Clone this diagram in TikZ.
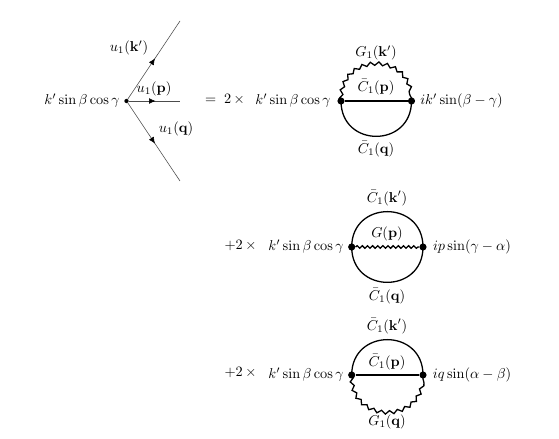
\documentclass[tikz,border=0pt]{standalone}
\usepackage{amsmath}
\usetikzlibrary{arrows.meta,decorations.pathmorphing,decorations.markings}

\begin{document}
\begin{tikzpicture}[x=0.7pt,y=0.7pt,
  every node/.style={inner sep=0.5pt},
  dot/.style={circle, fill=black, inner sep=0pt, minimum size=5pt},
  smalldot/.style={circle, fill=black, inner sep=0pt, minimum size=3pt},
  leg/.style={draw=black!70, line width=0.4pt, postaction={decorate},
    decoration={markings, mark=at position 0.52 with {\arrow[black]{Latex[length=4.5pt,width=4pt]}}}},
  prop/.style={line width=0.9pt},
  wavy/.style={line width=0.9pt, decorate,
    decoration={snake, amplitude=1.2pt, segment length=5.8pt}},
  wavyline/.style={line width=0.9pt, decorate,
    decoration={snake, amplitude=0.9pt, segment length=3.6pt}},
  arctop/.style={out=90, in=90, distance=33pt},
  arcbot/.style={out=-90, in=-90, distance=33pt}
]
\useasboundingbox (0,0) rectangle (559,439);

% vertex with three legs
\node[smalldot] (v0) at (126.5,338) {};
\coordinate (kend) at (180,418);
\coordinate (pend) at (180,338);
\coordinate (qend) at (180,258);
\draw[leg] (v0) -- (kend);
\draw[leg] (v0) -- (pend);
\draw[leg] (v0) -- (qend);
\node[anchor=east] (lhs) at (120.5,338) {$k'\sin\beta\cos\gamma$};
\node (uk) at (129,391) {$u_1(\mathbf{k}')$};
\node (up) at (154,350) {$u_1(\mathbf{p})$};
\node (uq) at (176,310) {$u_1(\mathbf{q})$};
\node (eq) at (225,340) {$=\;2\,\times$};

% first loop
\node[dot] (a1) at (341,338) {};
\node[dot] (b1) at (411.5,338) {};
\draw[wavy] (a1.center) to[arctop] (b1.center);
\draw[prop] (a1) -- (b1);
\draw[prop] (a1.center) to[arcbot] (b1.center);
\node (a1txt) at (293,338) {$k'\sin\beta\cos\gamma$};
\node (b1txt) at (461.5,338) {$ik'\sin(\beta-\gamma)$};
\node (g1k) at (376,386) {$G_1(\mathbf{k}')$};
\node (c1p) at (376,352) {$\bar{C}_1(\mathbf{p})$};
\node (c1q) at (376,290) {$\bar{C}_1(\mathbf{q})$};

% second loop
\node (two2) at (240.5,194) {$+2\,\times$};
\node[dot] (a2) at (351.7,192) {};
\node[dot] (b2) at (423,192) {};
\draw[prop] (a2.center) to[arctop] (b2.center);
\draw[wavyline] (a2) -- (b2);
\draw[prop] (a2.center) to[arcbot] (b2.center);
\node (a2txt) at (306,192) {$k'\sin\beta\cos\gamma$};
\node (b2txt) at (472,192) {$ip\sin(\gamma-\alpha)$};
\node (c2k) at (387,241) {$\bar{C}_1(\mathbf{k}')$};
\node (g2p) at (387,205) {$G(\mathbf{p})$};
\node (c2q) at (387,143) {$\bar{C}_1(\mathbf{q})$};

% third loop
\node (two3) at (240.5,67) {$+2\,\times$};
\node[dot] (a3) at (351.7,64) {};
\node[dot] (b3) at (423,64) {};
\draw[prop] (a3.center) to[arctop] (b3.center);
\draw[prop] (a3) -- (b3);
\draw[wavy] (a3.center) to[arcbot] (b3.center);
\node (a3txt) at (306,64) {$k'\sin\beta\cos\gamma$};
\node (b3txt) at (472,64) {$iq\sin(\alpha-\beta)$};
\node (c3k) at (387,113) {$\bar{C}_1(\mathbf{k}')$};
\node (c3p) at (387,77) {$\bar{C}_1(\mathbf{p})$};
\node (g3q) at (387,17) {$G_1(\mathbf{q})$};
\end{tikzpicture}
\end{document}
